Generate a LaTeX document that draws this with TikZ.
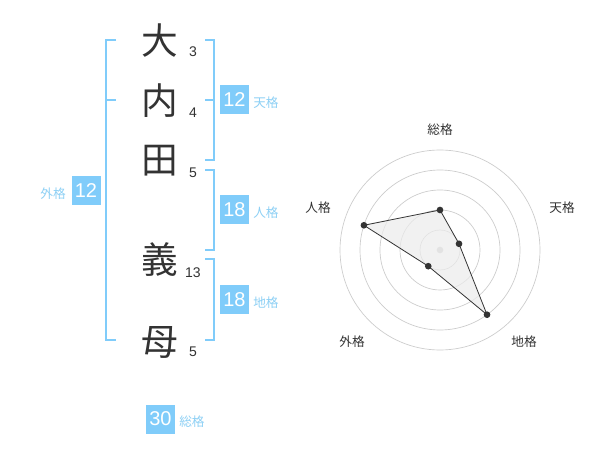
\documentclass[tikz,border=0pt]{standalone}
\usepackage{fontspec}
\setmainfont{Liberation Sans}
\newfontfamily\cjk{Noto Sans CJK JP}
\definecolor{skyblue}{HTML}{80CCFA}
\definecolor{labelblue}{HTML}{8DD0F5}
\definecolor{inkgray}{HTML}{333333}

\begin{document}
\begin{tikzpicture}[x=0.75pt,y=-0.75pt,
  kanji/.style={font=\cjk\fontsize{27.5}{27.5}\selectfont,text=inkgray,inner sep=0pt},
  strokes/.style={font=\fontsize{10.5}{10.5}\selectfont,text=inkgray,inner sep=0pt,anchor=base},
  numbox/.style={fill=skyblue,text=white,minimum width=21.75pt,minimum height=21.75pt,inner sep=0pt,font=\fontsize{15}{15}\selectfont},
  boxlabel/.style={text=labelblue,font=\cjk\fontsize{9.5}{9.5}\selectfont,inner sep=0pt},
  bracket/.style={draw=skyblue,line width=1.5pt},
  ring/.style={draw=gray!40,line width=0.5pt},
  axislabel/.style={text=inkgray,font=\cjk\fontsize{9.5}{9.5}\selectfont,inner sep=0pt},
  dot/.style={circle,fill=inkgray,inner sep=0pt,minimum size=5pt}]
\useasboundingbox[fill=white] (0,0) rectangle (600,470);

% Name
\node[kanji] (c1) at (160,41) {大};
\node[kanji] (c2) at (160,101) {内};
\node[kanji] (c3) at (160,161) {田};
\node[kanji] (c4) at (160,260) {義};
\node[kanji] (c5) at (160,342) {母};
\node[strokes] (n1) at (193,57) {3};
\node[strokes] (n2) at (193,118) {4};
\node[strokes] (n3) at (193,178) {5};
\node[strokes] (n4) at (193,278) {13};
\node[strokes] (n5) at (193,357) {5};

% Brackets
\draw[bracket] (116,40) -- (106,40) -- (106,340) -- (116,340);
\draw[bracket] (106,100) -- (116,100);
\draw[bracket] (205,40) -- (214,40) -- (214,160) -- (205,160);
\draw[bracket] (205,100) -- (214,100);
\draw[bracket] (205,170) -- (214,170) -- (214,250) -- (205,250);
\draw[bracket] (205,259) -- (214,259) -- (214,340) -- (205,340);

% Scores
\node[numbox] (ten) at (234.5,100) {12};
\node[boxlabel,anchor=west] (tenl) at (253,103) {天格};
\node[numbox] (jin) at (234.5,210) {18};
\node[boxlabel,anchor=west] (jinl) at (253,213) {人格};
\node[numbox] (chi) at (234.5,300) {18};
\node[boxlabel,anchor=west] (chil) at (253,303) {地格};
\node[numbox] (gai) at (86,191) {12};
\node[boxlabel,anchor=east] (gail) at (66,194) {外格};
\node[numbox] (so) at (160.5,419) {30};
\node[boxlabel,anchor=west] (sol) at (179,422) {総格};

% Radar chart
\begin{scope}[shift={(440,250)}]
\foreach \r in {20,40,60,80,100}
  \draw[ring] (0,0) circle (\r);
\node[circle,fill=gray!40,inner sep=0pt,minimum size=5pt] (o) at (0,0) {};
\coordinate (p1) at (-90:40);
\coordinate (p2) at (-18:20);
\coordinate (p3) at (54:80);
\coordinate (p4) at (126:20);
\coordinate (p5) at (198:80);
\draw[inkgray,line width=0.6pt,fill=gray!15,fill opacity=0.7] (p1) -- (p2) -- (p3) -- (p4) -- (p5) -- cycle;
\foreach \p in {p1,p2,p3,p4,p5}
  \node[dot] at (\p) {};
\node[axislabel] (a1) at (0,-120) {総格};
\node[axislabel] (a2) at (122,-42) {天格};
\node[axislabel] (a3) at (84,92) {地格};
\node[axislabel] (a4) at (-88,92) {外格};
\node[axislabel] (a5) at (-122,-42) {人格};
\end{scope}
\end{tikzpicture}
\end{document}
